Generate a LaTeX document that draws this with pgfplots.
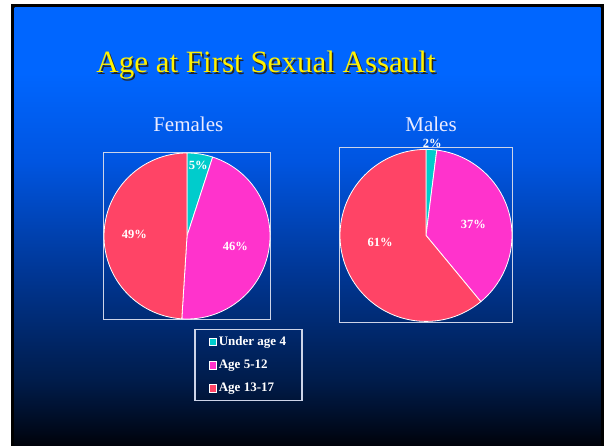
\documentclass[border=0pt]{standalone}
\usepackage{fontspec}
\setmainfont{Liberation Serif}
\usepackage{pgfplots}
\pgfplotsset{compat=1.18}

\definecolor{cteal}{RGB}{0,204,204}
\definecolor{cmag}{RGB}{255,51,204}
\definecolor{cred}{RGB}{255,68,102}
\definecolor{framec}{RGB}{205,212,232}
\definecolor{bg0}{RGB}{0,2,10}
\definecolor{bg1}{RGB}{0,15,42}
\definecolor{bg2}{RGB}{0,28,75}
\definecolor{bg3}{RGB}{0,55,150}
\definecolor{bg4}{RGB}{0,85,225}
\definecolor{bg5}{RGB}{0,102,255}

\pgfdeclareverticalshading{slidebg}{100bp}{color(0bp)=(bg0); color(25bp)=(bg0);
  color(28.5bp)=(bg1); color(32.5bp)=(bg2); color(45bp)=(bg3);
  color(57.5bp)=(bg4); color(67.5bp)=(bg5); color(75bp)=(bg5); color(100bp)=(bg5)}

% one pie slice, drawn at the data point: start angle \sa, end angle \sb, radius \pr
\pgfdeclareplotmark{pieslice}{%
  \pgfpathmoveto{\pgfpointorigin}%
  \pgfpathlineto{\pgfpointpolar{\sa}{\pr pt}}%
  \pgfpatharc{\sa}{\sb}{\pr pt}%
  \pgfpathclose
  \pgfusepathqfillstroke}

\pgfplotsset{
  slice/.style={scatter, only marks, mark=pieslice,
    scatter/use mapped color={draw=white, fill=#1},
    mark options={line width=0.8pt},
    visualization depends on={value \thisrow{a}\as\sa},
    visualization depends on={value \thisrow{b}\as\sb},
    visualization depends on={value \thisrow{r}\as\pr},
    legend image code/.code={\draw[fill=#1, draw=white, line width=0.5pt]
      (0pt,-3.7pt) rectangle (7.4pt,3.7pt);}},
  pct/.style={only marks, mark=none, point meta=explicit symbolic,
    nodes near coords={\pgfplotspointmeta\%},
    nodes near coords style={anchor=center, text=white,
      font=\bfseries\fontsize{12.5}{14}\selectfont},
    forget plot}
}

\begin{document}
\begin{tikzpicture}
\useasboundingbox (0,0) rectangle (604pt,446pt);
\begin{scope}[x=1pt, y=-1pt, shift={(0pt,446pt)}]
  \fill[white] (0,0) rectangle (604,446);
  \fill[black] (11,4.5) rectangle (604,446);
  \shade[shading=slidebg] (14.5,7.5) rectangle (600.5,446);
  \node[anchor=base, text=black!85, font=\fontsize{31}{36}\selectfont]
    at (267.6,74.2) {Age at First Sexual Assault};
  \node[anchor=base, text=yellow, font=\fontsize{31}{36}\selectfont]
    at (266,72.6) {Age at First Sexual Assault};
  \node[anchor=base, text=white!92!blue, font=\fontsize{21}{24}\selectfont]
    at (188.3,131.7) {Females};
  \node[anchor=base, text=white!92!blue, font=\fontsize{21}{24}\selectfont]
    at (431,131.7) {Males};
  \draw[framec, line width=1pt] (103.3,152.3) rectangle (270.7,320);
  \draw[framec, line width=1pt] (339.3,148) rectangle (512.7,322.3);
\end{scope}
\begin{axis}[at={(0pt,0pt)}, anchor=south west, width=604pt, height=446pt,
  scale only axis, xmin=0, xmax=604, ymin=0, ymax=446, y dir=reverse,
  hide axis, clip=false,
  legend cell align=left,
  legend style={at={(axis cs:194.3,329)}, anchor=north west, draw=framec,
    line width=1.3pt, fill=none, text=white,
    font=\bfseries\fontsize{13}{15}\selectfont,
    inner xsep=14pt, inner ysep=5pt, row sep=9pt}]
  % slices: centre x y, start and end angle, radius (px of the slide), share p in %
  % Females
  \addplot[slice=cteal] table {
x y a b r p
187 236 90 72 83 5
};
  \addlegendentry{Under age 4}
  \addplot[slice=cmag] table {
x y a b r p
187 236 72 -93.6 83 46
};
  \addlegendentry{Age 5-12}
  \addplot[slice=cred] table {
x y a b r p
187 236 -93.6 -270 83 49
};
  \addlegendentry{Age 13-17}
  % Males
  \addplot[slice=cteal, forget plot] table {
x y a b r p
426 235.4 90 82.8 86 2
};
  \addplot[slice=cmag, forget plot] table {
x y a b r p
426 235.4 82.8 -50.4 86 37
};
  \addplot[slice=cred, forget plot] table {
x y a b r p
426 235.4 -50.4 -270 86 61
};
  % percentage labels
  \addplot[pct] table[meta=v] {
x y v
198.3 165 5
235.3 246.7 46
134.3 234.3 49
432.3 143.3 2
473.3 224 37
380 242.7 61
};
\end{axis}
\end{tikzpicture}
\end{document}
